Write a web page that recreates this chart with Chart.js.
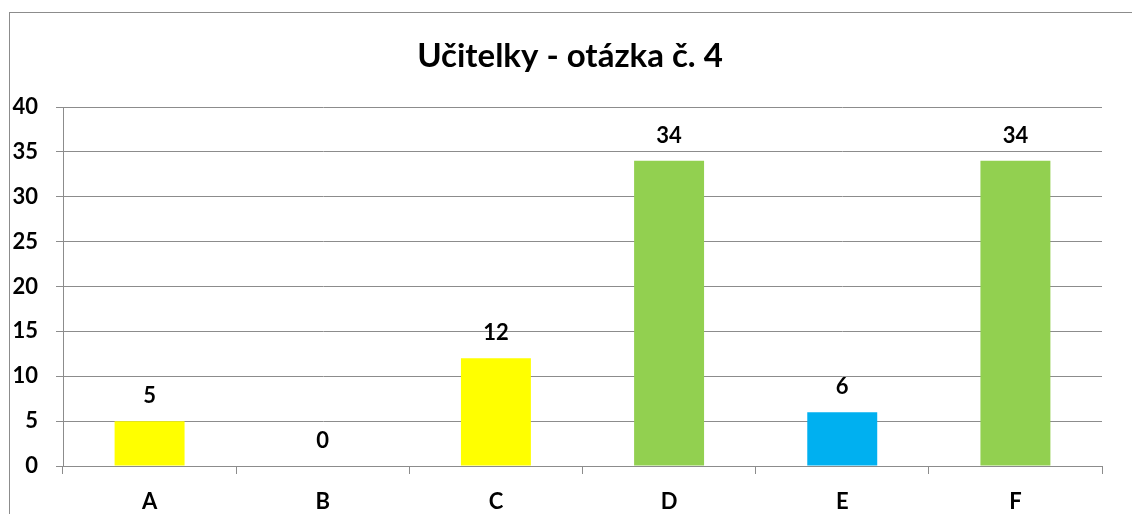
<!DOCTYPE html>
<html lang="cs">
<head>
    <meta charset="UTF-8">
    <title>Učitelky - otázka č. 4</title>
    <script src="https://cdn.jsdelivr.net/npm/chart.js"></script>
    <style>
        body {
            margin: 0;
            background: #ffffff;
        }

        .wrap {
            position: relative;
            width: 1132px;
            height: 514px;
        }

        .frame {
            position: absolute;
            left: 9px;
            top: 12px;
            right: 0;
            bottom: 0;
            border-left: 1px solid #8c8c8c;
            border-top: 1px solid #8c8c8c;
        }

        canvas {
            position: absolute;
            left: 0;
            top: 0;
        }
    </style>
</head>
<body>
    <div class="wrap">
        <div class="frame"></div>
        <canvas id="barChart" width="1132" height="514"></canvas>
    </div>

    <script>
        const categories = ['A', 'B', 'C', 'D', 'E', 'F'];
        const answers = [5, 0, 12, 34, 6, 34];
        const barColors = ['#ffff00', '#ffff00', '#ffff00', '#92d050', '#00b0f0', '#92d050'];
        const yTicks = [0, 5, 10, 15, 20, 25, 30, 35, 40];
        const chartTitle = 'Učitelky - otázka č. 4';

        const fontFamily = 'Lato, "Open Sans", sans-serif';
        const gridColor = '#8c8c8c';

        // title drawn by hand so it can sit where the original has it
        const titleText = {
            id: 'titleText',
            afterDraw(chart) {
                const ctx = chart.ctx;
                ctx.save();
                ctx.font = 'bold 33px ' + fontFamily;
                ctx.fillStyle = '#000';
                ctx.textAlign = 'center';
                ctx.textBaseline = 'middle';
                ctx.fillText(chartTitle, 570, 56);
                ctx.restore();
            }
        };

        // value labels above each bar
        const valueLabels = {
            id: 'valueLabels',
            afterDatasetsDraw(chart) {
                const ctx = chart.ctx;
                const meta = chart.getDatasetMeta(0);
                ctx.save();
                ctx.font = 'bold 22px ' + fontFamily;
                ctx.fillStyle = '#000';
                ctx.textAlign = 'center';
                ctx.textBaseline = 'alphabetic';
                meta.data.forEach(function(bar, i) {
                    ctx.fillText(String(answers[i]), bar.x, bar.y - 18);
                });
                ctx.restore();
            }
        };

        const ctx = document.getElementById('barChart').getContext('2d');
        window.barChart = new Chart(ctx, {
            type: 'bar',
            data: {
                labels: categories,
                datasets: [{
                    label: 'Učitelky',
                    data: answers,
                    backgroundColor: barColors,
                    borderWidth: 0,
                    categoryPercentage: 1,
                    barPercentage: 0.404
                }]
            },
            options: {
                responsive: false,
                animation: false,
                layout: {
                    padding: { top: 107, right: 30, bottom: 0, left: 0 }
                },
                scales: {
                    x: {
                        grid: {
                            offset: true,
                            drawOnChartArea: false,
                            drawTicks: true,
                            tickLength: 8,
                            color: gridColor
                        },
                        border: { color: gridColor },
                        ticks: {
                            color: '#000',
                            padding: 15,
                            font: { family: fontFamily, size: 22, weight: 'bold' }
                        },
                        afterFit(scale) { scale.height = 48; }
                    },
                    y: {
                        min: 0,
                        max: 40,
                        afterBuildTicks(scale) {
                            scale.ticks = yTicks.map(v => ({ value: v }));
                        },
                        grid: {
                            color: gridColor,
                            tickLength: 7
                        },
                        border: { color: gridColor },
                        ticks: {
                            color: '#000',
                            padding: 18,
                            font: { family: fontFamily, size: 22, weight: 'bold' }
                        },
                        afterFit(scale) { scale.width = 63; }
                    }
                },
                plugins: {
                    legend: { display: false },
                    tooltip: { enabled: false },
                    title: { display: false }
                }
            },
            plugins: [valueLabels, titleText]
        });
    </script>
</body>
</html>
